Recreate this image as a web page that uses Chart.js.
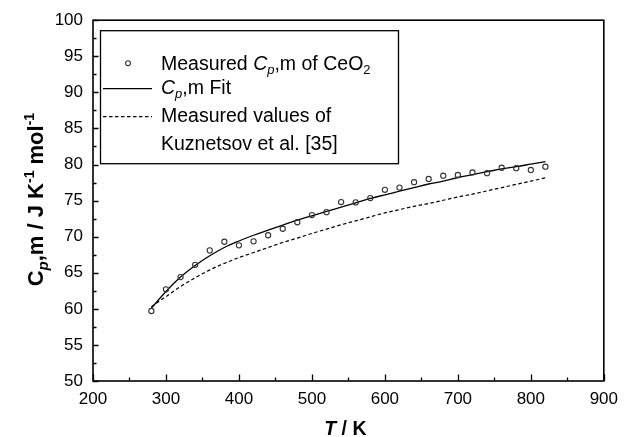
<!DOCTYPE html>
<html>
<head>
<meta charset="utf-8">
<script src="https://cdn.jsdelivr.net/npm/chart.js@4.4.1/dist/chart.umd.min.js"></script>
<style>
html,body{margin:0;padding:0;background:#ffffff;}
#wrap{width:626px;height:437px;position:relative;}
</style>
</head>
<body>
<div id="wrap"><canvas id="c" width="626" height="437"></canvas></div>
<script>
// ---- data ----
const temperatures = [280,300,320,340,360,380,400,420,440,460,480,500,520,540,560,580,600,620,640,660,680,700,720,740,760,780,800,820];
const measuredCp   = [59.7,62.7,64.4,66.1,68.1,69.3,68.8,69.35,70.2,71.1,72.0,73.0,73.4,74.8,74.75,75.35,76.5,76.8,77.55,78.0,78.45,78.55,78.9,78.8,79.55,79.5,79.25,79.7];
const fitCp        = [60.1,62.4,64.4,66.0,67.35,68.5,69.4,70.2,70.9,71.6,72.3,72.9,73.5,74.1,74.7,75.3,75.8,76.3,76.8,77.3,77.7,78.2,78.6,79.0,79.4,79.7,80.05,80.4];
const kuznetsovCp  = [60.3,61.7,63.1,64.3,65.4,66.3,67.1,67.8,68.5,69.2,69.8,70.45,71.05,71.65,72.2,72.75,73.3,73.75,74.2,74.6,75.05,75.5,75.9,76.35,76.8,77.25,77.7,78.15];
const xTickLabels  = [200,300,400,500,600,700,800,900];
const yTickLabels  = [50,55,60,65,70,75,80,85,90,95,100];

const FONT = '"Liberation Sans", Arial, Helvetica, sans-serif';

function pts(ys){ return temperatures.map((t,i)=>({x:t,y:ys[i]})); }

function drawRich(ctx, segs, x, y){
  let cx = x;
  for (const s of segs){
    ctx.font = s.font;
    ctx.fillText(s.text, cx, y + (s.dy||0));
    cx += ctx.measureText(s.text).width;
  }
  return cx - x;
}
function richWidth(ctx, segs){
  let w = 0;
  for (const s of segs){ ctx.font = s.font; w += ctx.measureText(s.text).width; }
  return w;
}

const decorPlugin = {
  id: 'decor',
  afterDraw(chart){
    const ctx = chart.ctx, ca = chart.chartArea;
    const xs = chart.scales.x, ys = chart.scales.y;
    ctx.save();
    ctx.strokeStyle = '#000'; ctx.fillStyle = '#000';
    // frame
    ctx.lineWidth = 1.6;
    ctx.strokeRect(ca.left, ca.top, ca.right - ca.left, ca.bottom - ca.top);
    // inward ticks
    ctx.lineWidth = 1.3;
    ctx.beginPath();
    for (let v = xs.min; v <= xs.max + 1e-9; v += 50){
      const px = Math.round(xs.getPixelForValue(v)) + 0.5;
      const len = (v % 100 === 0) ? 6.5 : 3.5;
      ctx.moveTo(px, ca.bottom); ctx.lineTo(px, ca.bottom - len);
    }
    for (let v = ys.min; v <= ys.max + 1e-9; v += 2.5){
      const py = Math.round(ys.getPixelForValue(v)) + 0.5;
      const len = (v % 5 === 0) ? 5.5 : 3.5;
      ctx.moveTo(ca.left, py); ctx.lineTo(ca.left + len, py);
    }
    ctx.stroke();

    // legend
    const bx = ca.left + 7.5, by = ca.top + 10.5, bw = 298, bh = 133;
    ctx.lineWidth = 1.3;
    ctx.strokeRect(bx, by, bw, bh);
    const reg = '19.5px ' + FONT, ita = 'italic 19.5px ' + FONT;
    const subR = '13px ' + FONT, subI = 'italic 13px ' + FONT;
    const tx = bx + 60.5;
    ctx.textBaseline = 'alphabetic'; ctx.textAlign = 'left';
    drawRich(ctx, [{text:'Measured ',font:reg},{text:'C',font:ita},{text:'p',font:subI,dy:4},{text:',m of CeO',font:reg},{text:'2',font:subR,dy:4}], tx, by + 39.5);
    drawRich(ctx, [{text:'C',font:ita},{text:'p',font:subI,dy:4},{text:',m Fit',font:reg}], tx, by + 63.5);
    drawRich(ctx, [{text:'Measured values of',font:reg}], tx, by + 91.5);
    drawRich(ctx, [{text:'Kuznetsov et al. [35]',font:reg}], tx, by + 119.5);
    // legend samples
    ctx.strokeStyle = '#333'; ctx.lineWidth = 1.1;
    ctx.beginPath(); ctx.arc(bx + 27.5, by + 32.5, 2.4, 0, Math.PI*2); ctx.stroke();
    ctx.strokeStyle = '#000'; ctx.lineWidth = 1.2;
    ctx.beginPath(); ctx.moveTo(bx + 2.5, by + 58); ctx.lineTo(bx + 51.5, by + 58); ctx.stroke();
    ctx.setLineDash([3.5,2.5]);
    ctx.beginPath(); ctx.moveTo(bx + 2.5, by + 86); ctx.lineTo(bx + 51.5, by + 86); ctx.stroke();
    ctx.setLineDash([]);

    // x axis title
    const xt = [{text:'T',font:'italic bold 19.5px ' + FONT},{text:' / K',font:'bold 19.5px ' + FONT}];
    const xw = richWidth(ctx, xt);
    ctx.fillStyle = '#000';
    drawRich(ctx, xt, (ca.left + ca.right)/2 - 3 - xw/2, 435);

    // y axis title (rotated)
    const yt = [
      {text:'C',font:'bold 22px ' + FONT},
      {text:'p',font:'italic bold 15px ' + FONT, dy:5},
      {text:',m / J K',font:'bold 22px ' + FONT},
      {text:'-1',font:'bold 14px ' + FONT, dy:-9},
      {text:' mol',font:'bold 22px ' + FONT},
      {text:'-1',font:'bold 14px ' + FONT, dy:-9}
    ];
    const yw = richWidth(ctx, yt);
    ctx.translate(43, (ca.top + ca.bottom)/2 - 1);
    ctx.rotate(-Math.PI/2);
    drawRich(ctx, yt, -yw/2, 0);
    ctx.restore();
  }
};

new Chart(document.getElementById('c'), {
  type: 'scatter',
  data: {
    datasets: [
      { label: 'Measured Cp,m of CeO2', data: pts(measuredCp), showLine: false,
        pointStyle: 'circle', pointRadius: 2.6, pointBorderWidth: 1.1,
        pointBorderColor: '#333', pointBackgroundColor: 'rgba(0,0,0,0)', order: 0 },
      { label: 'Cp,m Fit', data: pts(fitCp), showLine: true, pointRadius: 0,
        borderColor: '#000', borderWidth: 1.3, cubicInterpolationMode: 'monotone', order: 1 },
      { label: 'Measured values of Kuznetsov et al. [35]', data: pts(kuznetsovCp), showLine: true, pointRadius: 0,
        borderColor: '#000', borderWidth: 1.2, borderDash: [3.5,2.5], cubicInterpolationMode: 'monotone', order: 2 }
    ]
  },
  options: {
    responsive: false,
    animation: false,
    devicePixelRatio: 1,
    layout: { padding: { left: 0, right: 17, top: 20, bottom: 0 } },
    plugins: { legend: { display: false }, tooltip: { enabled: false } },
    scales: {
      x: {
        type: 'linear', min: 200, max: 900,
        afterBuildTicks(s){ s.ticks = xTickLabels.map(v=>({value:v})); },
        afterFit(s){ s.height = 56; },
        grid: { display: false, drawTicks: false },
        border: { display: false },
        ticks: { font: { family: FONT, size: 17 }, color: '#000', padding: 8, maxRotation: 0 }
      },
      y: {
        type: 'linear', min: 50, max: 100,
        afterBuildTicks(s){ s.ticks = yTickLabels.map(v=>({value:v})); },
        afterFit(s){ s.width = 93; },
        grid: { display: false, drawTicks: false },
        border: { display: false },
        ticks: { font: { family: FONT, size: 17 }, color: '#000', padding: 10 }
      }
    }
  },
  plugins: [decorPlugin]
});
</script>
</body>
</html>
